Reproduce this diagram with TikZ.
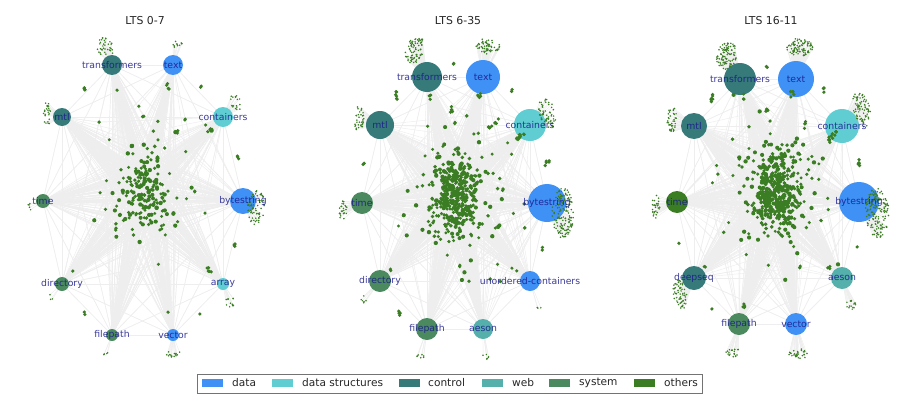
\documentclass[tikz,border=0pt]{standalone}
\usepackage{fontspec}
\setmainfont{DejaVu Sans}
\pgfdeclarelayer{back}
\pgfdeclarelayer{bg}
\pgfsetlayers{back,bg,main}
\definecolor{cdata}{RGB}{64,145,245}
\definecolor{cds}{RGB}{95,205,210}
\definecolor{ccontrol}{RGB}{55,122,122}
\definecolor{cweb}{RGB}{85,175,170}
\definecolor{csys}{RGB}{75,137,95}
\definecolor{cother}{RGB}{58,125,34}
\definecolor{labc}{RGB}{25,25,140}
\definecolor{ttlc}{RGB}{38,38,38}
\definecolor{edgec}{RGB}{238,238,238}
\tikzset{
  hub/.style={circle, inner sep=0pt, draw=none},
  lbl/.style={text=labc, text opacity=0.85, font=\fontsize{9.3}{10}\selectfont, inner sep=0pt},
  edge/.style={draw=edgec, line width=0.45pt},
  ttl/.style={text=ttlc, font=\fontsize{10.9}{12}\selectfont, inner sep=0pt},
  patch/.style={inner sep=0pt, minimum width=21pt, minimum height=8pt, draw=none},
  legtxt/.style={text=ttlc, font=\fontsize{10.6}{12}\selectfont, inner sep=0pt, anchor=west},
}
% cloud coordinates: prefix, from, to, cx, cy, sx, sy
\newcommand{\mkcloud}[7]{%
  \foreach \i in {#2,...,#3}{%
    \pgfmathsetmacro\cldx{#4+#6*(rand+rand+rand)}%
    \pgfmathsetmacro\cldy{#5+#7*(rand+rand+rand)}%
    \coordinate (#1-c\i) at (\cldx,\cldy);%
  }}
% leaf cluster: prefix, hub, cx, cy, rx, ry, n, angle  (coordinates prefix-hub-L<k>, small dots)
\newcommand{\mkleaf}[8]{%
  \foreach \k in {1,...,#7}{%
    \pgfmathsetmacro\lfa{360*rnd}%
    \pgfmathsetmacro\lfs{sqrt(rnd)}%
    \pgfmathsetmacro\lfu{#5*\lfs*cos(\lfa)}%
    \pgfmathsetmacro\lfv{#6*\lfs*sin(\lfa)}%
    \pgfmathsetmacro\lfx{#3+\lfu*cos(#8)-\lfv*sin(#8)}%
    \pgfmathsetmacro\lfy{#4+\lfu*sin(#8)+\lfv*cos(#8)}%
    \coordinate (#1-#2-L\k) at (\lfx,\lfy);%
    \fill[cother] (#1-#2-L\k) circle (0.85);%
  }}
% clump of larger dots: cx, cy, rx, ry, n, angle
\newcommand{\mkclump}[6]{%
  \foreach \k in {1,...,#5}{%
    \pgfmathsetmacro\lfa{360*rnd}%
    \pgfmathsetmacro\lfs{sqrt(rnd)}%
    \pgfmathsetmacro\lfu{#3*\lfs*cos(\lfa)}%
    \pgfmathsetmacro\lfv{#4*\lfs*sin(\lfa)}%
    \pgfmathsetmacro\lfx{#1+\lfu*cos(#6)-\lfv*sin(#6)}%
    \pgfmathsetmacro\lfy{#2+\lfu*sin(#6)+\lfv*cos(#6)}%
    \fill[cother] (\lfx,\lfy) circle (1.8);%
  }}
% all edges of a panel, in one background block: prefix, hub list, N, per-hub count, hub/leafcount list
\newcommand{\mkedges}[5]{%
  \begin{pgfonlayer}{bg}%
  \foreach \a in #2 {%
    \foreach \k in {1,...,#4}{%
      \pgfmathtruncatemacro\j{random(1,#3)}%
      \draw[edge] (#1-\a.center) -- (#1-c\j);%
    }%
    \foreach \b in #2 {\draw[edge] (#1-\a.center) -- (#1-\b.center);}%
  }%
  \foreach \a/\n in {#5} {%
    \foreach \k in {1,...,\n} {\draw[edge] (#1-\a.center) -- (#1-\a-L\k);}%
  }%
  \end{pgfonlayer}}
\newcommand{\mkdots}[2]{%
  \foreach \i in {1,...,#2}{%
    \pgfmathsetmacro\rr{1.6+0.6*rnd}%
    \fill[cother] (#1-c\i) circle (\rr);%
  }}
\begin{document}
\begin{tikzpicture}[x=1pt,y=-1pt]
\useasboundingbox (0,0) rectangle (900,407);
\begin{pgfonlayer}{back}
\fill[white] (0,0) rectangle (900,407);
\end{pgfonlayer}
\pgfmathsetseed{11}

% ================= Panel A: LTS 0-7 =================
\node[ttl] (tA) at (145,21) {LTS 0-7};
\def\hubsA{transformers,text,mtl,containers,time,bytestring,directory,array,filepath,vector}
\foreach \nm/\x/\y/\r/\c in {transformers/112/65/10/ccontrol, text/173/65/10/cdata, mtl/62/117/9/ccontrol, containers/223/117/10/cds, time/43/201/7/csys, bytestring/243/201/13/cdata, directory/62/284/7/csys, array/223/284/6/cds, filepath/112/335/6/csys, vector/173/335/6/cdata}
  \node[hub, fill=\c, minimum size=2*\r] (A-\nm) at (\x,\y) {};
\mkcloud{A}{1}{150}{143}{195}{12}{20}
\mkcloud{A}{151}{200}{145}{190}{26}{36}
\mkdots{A}{200}
\mkleaf{A}{transformers}{106}{47}{9}{10}{35}{0}
\mkleaf{A}{text}{176}{44}{6}{4}{12}{0}
\mkleaf{A}{mtl}{47}{114}{4}{12}{25}{0}
\mkleaf{A}{containers}{236}{103}{5}{9}{18}{-20}
\mkleaf{A}{bytestring}{256}{207}{9}{18}{70}{0}
\mkleaf{A}{array}{230}{302}{5}{5}{12}{0}
\mkleaf{A}{vector}{173}{353}{7}{4}{15}{0}
\mkleaf{A}{filepath}{106}{354}{3}{2}{4}{0}
\mkleaf{A}{directory}{51}{297}{2}{3}{3}{0}
\mkleaf{A}{time}{29}{207}{2}{5}{5}{0}
\mkedges{A}{\hubsA}{200}{90}{transformers/35,text/12,mtl/25,containers/18,bytestring/70,array/12,vector/15,filepath/4,directory/3,time/5}
\mkclump{84}{88}{1.5}{3}{4}{0}
\mkclump{117}{90}{0.3}{0.3}{1}{0}
\mkclump{168}{87}{1.5}{4}{4}{0}
\mkclump{201}{86}{1}{2}{2}{0}
\mkclump{139}{106}{0.3}{0.3}{1}{0}
\mkclump{143}{116}{1.2}{3}{3}{0}
\mkclump{185}{118}{1}{2}{2}{0}
\mkclump{210}{132}{2}{6}{8}{40}
\mkclump{237}{158}{2}{2}{3}{0}
\mkclump{178}{132}{1}{2}{2}{0}
\mkclump{195}{191}{1}{2}{2}{0}
\mkclump{235}{245}{1.2}{2}{3}{0}
\mkclump{209}{270}{1.5}{4}{5}{-40}
\mkclump{85}{313}{1}{2}{2}{0}
\mkclump{73}{271}{0.3}{0.3}{1}{0}
\mkclump{168}{312}{0.3}{0.3}{1}{0}
\mkclump{200}{314}{0.3}{0.3}{1}{0}
\foreach \nm in \hubsA
  \node[lbl] (A-\nm-l) at (A-\nm) {\nm};

% ================= Panel B: LTS 6-35 =================
\node[ttl] (tB) at (458,21) {LTS 6-35};
\def\hubsB{transformers,text,mtl,containers,time,bytestring,directory,unordered-containers,filepath,aeson}
\foreach \nm/\x/\y/\r/\c in {transformers/427/77/15/ccontrol, text/483/77/17/cdata, mtl/380/125/14/ccontrol, containers/530/125/16/cds, time/362/203/11/csys, bytestring/547/203/19/cdata, directory/380/281/11/csys, unordered-containers/530/281/10/cdata, filepath/427/329/11/csys, aeson/483/329/10/cweb}
  \node[hub, fill=\c, minimum size=2*\r] (B-\nm) at (\x,\y) {};
\mkcloud{B}{1}{340}{455}{195}{11}{20}
\mkcloud{B}{341}{440}{457}{195}{28}{38}
\mkdots{B}{440}
\mkleaf{B}{transformers}{415}{50}{9}{14}{80}{20}
\mkleaf{B}{text}{488}{46}{12}{8}{60}{0}
\mkleaf{B}{mtl}{359}{120}{5}{14}{35}{0}
\mkleaf{B}{containers}{547}{113}{8}{16}{60}{-15}
\mkleaf{B}{bytestring}{563}{213}{11}{25}{150}{0}
\mkleaf{B}{time}{343}{211}{4}{10}{25}{0}
\mkleaf{B}{directory}{364}{299}{3}{4}{6}{0}
\mkleaf{B}{unordered-containers}{539}{308}{2}{1}{3}{0}
\mkleaf{B}{filepath}{420}{356}{4}{3}{7}{0}
\mkleaf{B}{aeson}{485}{357}{4}{3}{6}{0}
\mkedges{B}{\hubsB}{440}{100}{transformers/80,text/60,mtl/35,containers/60,bytestring/150,time/25,directory/6,unordered-containers/3,filepath/7,aeson/6}
\mkclump{397}{95}{2}{5}{6}{0}
\mkclump{430}{97}{1.5}{3}{3}{0}
\mkclump{454}{65}{1}{2}{2}{0}
\mkclump{479}{95}{2}{5}{5}{0}
\mkclump{512}{89}{1}{3}{2}{0}
\mkclump{452}{112}{1.5}{3}{4}{0}
\mkclump{455}{122}{1}{2}{2}{0}
\mkclump{490}{127}{1.5}{4}{4}{30}
\mkclump{497}{122}{1.5}{4}{4}{30}
\mkclump{520}{137}{2.5}{7}{10}{45}
\mkclump{547}{163}{2}{4}{5}{30}
\mkclump{364}{164}{1}{2}{2}{0}
\mkclump{543}{249}{1}{2}{2}{0}
\mkclump{390}{271}{1}{2}{2}{0}
\mkclump{399}{313}{1.5}{3.5}{4}{0}
\mkclump{460}{265}{1}{2}{2}{0}
\mkclump{517}{271}{0.3}{0.3}{1}{0}
\foreach \nm in \hubsB
  \node[lbl] (B-\nm-l) at (B-\nm) {\nm};

% ================= Panel C: LTS 16-11 =================
\node[ttl] (tC) at (771,21) {LTS 16-11};
\def\hubsC{transformers,text,mtl,containers,time,bytestring,deepseq,aeson,filepath,vector}
\foreach \nm/\x/\y/\r/\c in {transformers/740/79/16/ccontrol, text/796/79/18/cdata, mtl/694/126/13/ccontrol, containers/842/126/17/cds, time/677/202/11/cother, bytestring/859/202/20/cdata, deepseq/694/278/12/ccontrol, aeson/842/278/11/cweb, filepath/739/324/11/csys, vector/796/324/11/cdata}
  \node[hub, fill=\c, minimum size=2*\r] (C-\nm) at (\x,\y) {};
\mkcloud{C}{1}{370}{775}{188}{12}{20}
\mkcloud{C}{371}{480}{775}{190}{28}{38}
\mkdots{C}{480}
\mkleaf{C}{transformers}{727}{55}{10}{15}{100}{20}
\mkleaf{C}{text}{800}{47}{14}{9}{90}{0}
\mkleaf{C}{mtl}{672}{119}{5}{13}{40}{0}
\mkleaf{C}{containers}{862}{110}{9}{18}{80}{-15}
\mkleaf{C}{bytestring}{877}{213}{12}{25}{160}{0}
\mkleaf{C}{time}{656}{207}{4}{12}{30}{0}
\mkleaf{C}{deepseq}{680}{295}{7}{15}{60}{-10}
\mkleaf{C}{aeson}{852}{305}{6}{5}{15}{30}
\mkleaf{C}{filepath}{733}{352}{7}{5}{20}{0}
\mkleaf{C}{vector}{798}{354}{9}{6}{30}{0}
\mkedges{C}{\hubsC}{480}{100}{transformers/100,text/90,mtl/40,containers/80,bytestring/160,time/30,deepseq/60,aeson/15,filepath/20,vector/30}
\mkclump{711}{97}{2}{6}{6}{0}
\mkclump{743}{97}{1.5}{4}{3}{0}
\mkclump{767}{67}{1}{2}{2}{0}
\mkclump{792}{95}{2.5}{6}{5}{0}
\mkclump{824}{90}{1}{3}{3}{0}
\mkclump{767}{113}{2}{4}{4}{0}
\mkclump{805}{125}{2}{4}{4}{0}
\mkclump{832}{137}{3}{8}{12}{40}
\mkclump{859}{162}{2}{4}{5}{0}
\mkclump{733}{138}{1}{2}{2}{0}
\mkclump{679}{243}{0.3}{0.3}{1}{0}
\mkclump{744}{307}{1.5}{4}{4}{0}
\mkclump{830}{268}{2}{3}{3}{-30}
\mkclump{800}{268}{1}{2}{2}{0}
\mkclump{857}{247}{0.3}{0.3}{1}{0}
\mkclump{712}{309}{0.3}{0.3}{1}{0}
\mkclump{705}{266}{1}{2}{2}{0}
\foreach \nm in \hubsC
  \node[lbl] (C-\nm-l) at (C-\nm) {\nm};

% ================= Legend =================
\node[draw=black!55, line width=0.8pt, fill=white, minimum width=505pt, minimum height=19pt, inner sep=0pt] (legend) at (449.5,383.5) {};
\node[patch, fill=cdata] (lg-data) at (212.5,383) {};
\node[legtxt] (lt-data) at (232,383) {data};
\node[patch, fill=cds] (lg-ds) at (282.5,383) {};
\node[legtxt] (lt-ds) at (302,383) {data structures};
\node[patch, fill=ccontrol] (lg-control) at (409,383) {};
\node[legtxt] (lt-control) at (428,383) {control};
\node[patch, fill=cweb] (lg-web) at (492,383) {};
\node[legtxt] (lt-web) at (512,383) {web};
\node[patch, fill=csys] (lg-sys) at (559,383) {};
\node[legtxt] (lt-sys) at (579,383) {system};
\node[patch, fill=cother] (lg-oth) at (644,383) {};
\node[legtxt] (lt-oth) at (664,383) {others};
\end{tikzpicture}
\end{document}
